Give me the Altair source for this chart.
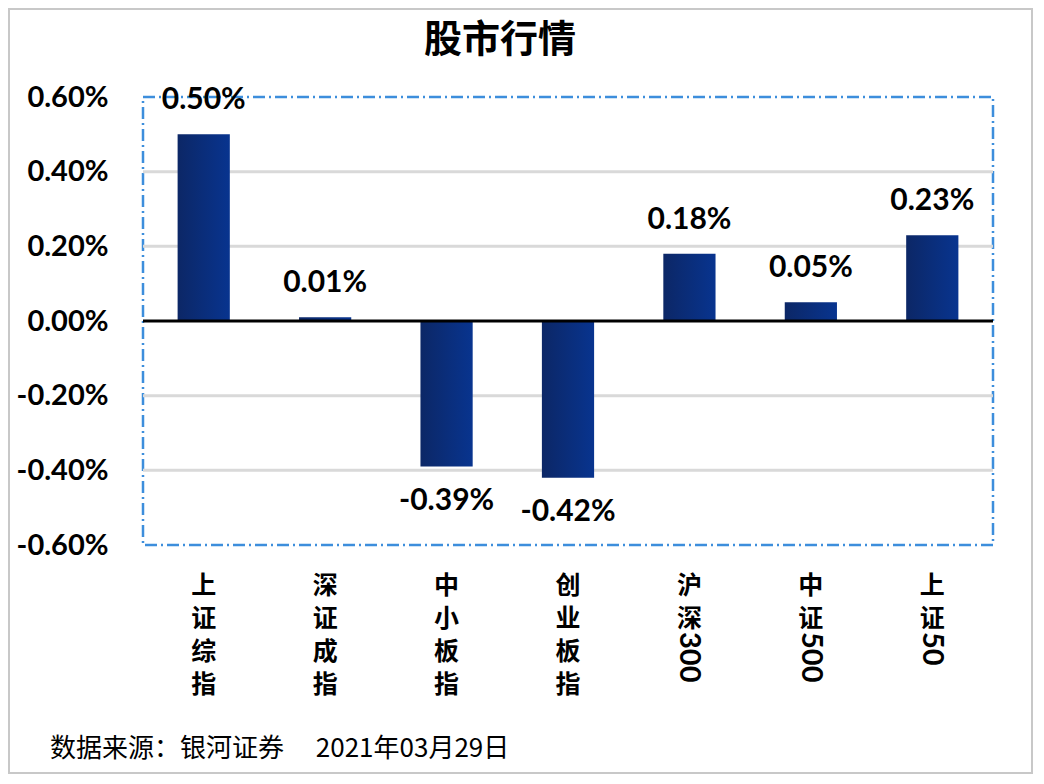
import re
import altair as alt
import pandas as pd

# ---- data ----
names = ["上证综指", "深证成指", "中小板指", "创业板指", "沪深300", "中证500", "上证50"]
values_pct = [0.50, 0.01, -0.39, -0.42, 0.18, 0.05, 0.23]
tick_values = [0.006, 0.004, 0.002, 0.0, -0.002, -0.004, -0.006]
grid_values = [0.004, 0.002, -0.002, -0.004]
title_text = "股市行情"
source_text = "数据来源：银河证券\u3000 2021年03月29日"

cn_parts = [re.match(r"^\D*", n).group(0) for n in names]
num_parts = [n[len(c):] for n, c in zip(names, cn_parts)]

df = pd.DataFrame({
    "name": names,
    "value": [v / 100 for v in values_pct],
    "cn": ["\n".join(list(c)) for c in cn_parts],
    "num": num_parts,
})

CJK = "Noto Sans CJK SC"
NUM = "Lato"

x_enc = alt.X("name:N", sort=names,
              scale=alt.Scale(paddingInner=0.57, paddingOuter=0.285), axis=None)
y_scale = alt.Scale(domain=[-0.006, 0.006], nice=False)
y_axis = alt.Axis(values=tick_values, format=".2%", title=None, domain=False,
                  ticks=False, grid=False, labelFont=NUM, labelFontSize=29,
                  labelFontWeight="bold", labelColor="black", labelPadding=35,
                  labelExpr="replace(datum.label, '\u2212', '-')")
y_enc = alt.Y("value:Q", scale=y_scale, axis=y_axis)

grad = alt.LinearGradient(
    gradient="linear",
    stops=[alt.GradientStop(color="#0c2766", offset=0),
           alt.GradientStop(color="#08348f", offset=1)],
    x1=0, x2=1, y1=0, y2=0,
)

frame = alt.Chart(pd.DataFrame({"k": [0]})).mark_rect(
    fillOpacity=0, stroke="#c8c8c8", strokeWidth=2
).encode(x=alt.value(-134), x2=alt.value(889), y=alt.value(-88), y2=alt.value(676))

grid = alt.Chart(pd.DataFrame({"value": grid_values})).mark_rule(
    color="#d9d9d9", strokeWidth=3
).encode(y=y_enc)

base = alt.Chart(df).encode(x=x_enc)

bars = base.mark_bar(color=grad).encode(y=y_enc)

zero = alt.Chart(pd.DataFrame({"value": [0.0]})).mark_rule(
    color="black", strokeWidth=3
).encode(y=y_enc)

lab_base = base.transform_calculate(
    lbl="replace(format(datum.value, '.2%'), '\u2212', '-')"
)

pos = lab_base.transform_filter("datum.value >= 0").mark_text(
    dy=-34, baseline="middle", font=NUM, fontSize=30, fontWeight="bold", color="black"
).encode(y=y_enc, text="lbl:N")

neg = lab_base.transform_filter("datum.value < 0").mark_text(
    dy=34, baseline="middle", font=NUM, fontSize=30, fontWeight="bold", color="black"
).encode(y=y_enc, text="lbl:N")

cn_lab = base.mark_text(
    baseline="top", lineBreak="\n", lineHeight=33, font=CJK, fontSize=25,
    fontWeight="bold", color="black"
).encode(y=alt.value(477), text="cn:N")

num_lab = base.transform_filter("datum.num != ''").mark_text(
    angle=90, align="left", baseline="middle", font=NUM, fontSize=29,
    fontWeight="bold", color="black"
).encode(y=alt.value(535), text="num:N")

title = alt.Chart(pd.DataFrame({"t": [title_text]})).mark_text(
    font=CJK, fontSize=38, fontWeight="bold", color="black", baseline="middle"
).encode(x=alt.value(357), y=alt.value(-56), text="t:N")

source = alt.Chart(pd.DataFrame({"t": [source_text]})).mark_text(
    font=CJK, fontSize=26, color="black", align="left", baseline="middle"
).encode(x=alt.value(-93), y=alt.value(652), text="t:N")

chart = alt.layer(frame, grid, bars, zero, pos, neg, cn_lab, num_lab, title, source).properties(
    width=850, height=448,
    autosize=alt.AutoSizeParams(type="none"),
    padding={"left": 135, "top": 89, "right": 43, "bottom": 229},
    background="white",
).configure_view(
    stroke="#3d8edc", strokeWidth=2.5, strokeDash=[12, 4, 2, 4]
)

chart.save("out.html", embed_options={"renderer": "svg", "actions": False})
